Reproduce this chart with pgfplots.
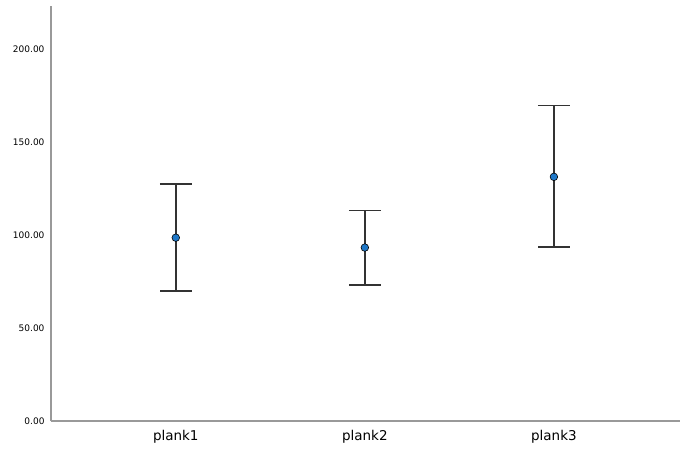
\documentclass[border=0pt]{standalone}
\usepackage{pgfplots}
\pgfplotsset{compat=1.18}
\usepackage{pgfplotstable}
\usepackage{fontspec}
\setmainfont{DejaVu Sans}
\definecolor{axisgray}{HTML}{999999}
\definecolor{barblack}{HTML}{333333}
\definecolor{dotblue}{HTML}{1F78C8}

% mean, upper and lower error
\pgfplotstableread{
x  mean   ep    em
1  98.5   28.9  28.6
2  93.2   19.8  20.2
3  131.2  38.3  37.8
}\planks

\begin{document}
\begin{tikzpicture}
\useasboundingbox (-51bp,-33bp) rectangle (638bp,421bp);
\begin{axis}[
    at={(0,0)}, anchor=origin,
    scale only axis,
    width=629bp, height=415bp,
    xmin=0.34, xmax=3.667,
    ymin=0, ymax=223,
    axis x line=bottom, axis y line=left,
    axis line style={-, axisgray, line width=1.3bp},
    major tick length=0pt,
    xtick={1,2,3},
    xticklabels={plank1, plank2, plank3},
    x tick label style={font=\fontsize{13.5bp}{15bp}\selectfont, yshift=-6bp},
    ytick={0,50,100,150,200},
    y tick label style={font=\fontsize{9bp}{10bp}\selectfont, xshift=-3bp},
    /pgf/number format/assume math mode=true,
    yticklabel={\pgfmathprintnumber[fixed, fixed zerofill, precision=2]{\tick}},
    clip=false,
]
\addplot[
    draw=none,
    mark=none,
    error bars/.cd,
      y dir=both, y explicit,
      error mark=|,
      error mark options={draw=barblack, line width=1.5bp, mark size=16bp},
      error bar style={draw=barblack, line width=1.5bp},
] table[x=x, y=mean, y error plus=ep, y error minus=em] {\planks};
\addplot[
    only marks,
    mark=*,
    mark size=3.8bp,
    mark options={fill=dotblue, draw=black, line width=0.6bp},
] table[x=x, y=mean] {\planks};
\end{axis}
\end{tikzpicture}
\end{document}
